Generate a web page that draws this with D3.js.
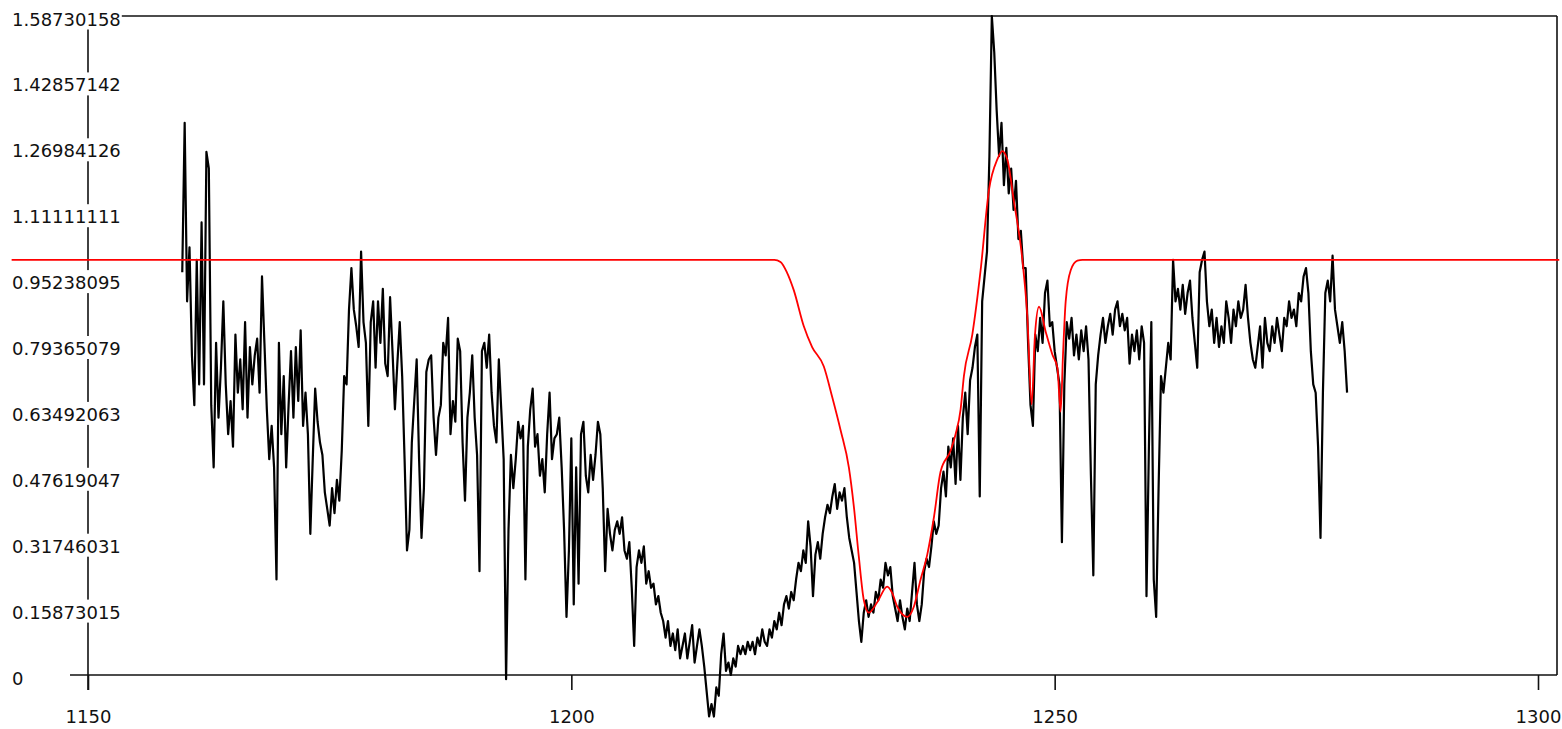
<!DOCTYPE html>
<html>
<head>
<meta charset="utf-8">
<script src="https://cdn.jsdelivr.net/npm/d3@7"></script>
<style>
body { margin: 0; background: #fff; overflow: hidden; }
svg { display: block; font-family: "DejaVu Sans", sans-serif; }
</style>
</head>
<body>
<div id="chart"></div>
<script>
/*
Spectrum (black) and fitted model (red)
 */

var specStart = 1159.75;
var specStep = 0.25;
var specFlux = [
    0.97, 1.33, 0.90, 1.03, 0.77, 0.65, 1.00, 0.70, 1.09, 0.70, 1.26, 1.22, 0.65, 0.50, 0.80, 0.62, 0.74, 0.90, 0.70, 0.58,
    0.66, 0.55, 0.82, 0.68, 0.76, 0.64, 0.85, 0.62, 0.79, 0.70, 0.77, 0.81, 0.68, 0.96, 0.80, 0.64, 0.52, 0.60, 0.50, 0.23,
    0.80, 0.58, 0.72, 0.50, 0.65, 0.78, 0.62, 0.79, 0.66, 0.83, 0.60, 0.68, 0.58, 0.34, 0.52, 0.69, 0.61, 0.56, 0.53, 0.44,
    0.40, 0.36, 0.45, 0.39, 0.47, 0.42, 0.54, 0.72, 0.70, 0.88, 0.98, 0.88, 0.84, 0.79, 1.02, 0.85, 0.80, 0.60, 0.85, 0.90,
    0.74, 0.90, 0.80, 0.93, 0.75, 0.72, 0.91, 0.78, 0.64, 0.75, 0.85, 0.72, 0.52, 0.30, 0.35, 0.56, 0.66, 0.76, 0.52, 0.33,
    0.45, 0.73, 0.76, 0.77, 0.62, 0.53, 0.62, 0.65, 0.80, 0.77, 0.86, 0.58, 0.66, 0.61, 0.81, 0.78, 0.56, 0.42, 0.62, 0.68,
    0.77, 0.62, 0.53, 0.25, 0.78, 0.80, 0.74, 0.82, 0.68, 0.60, 0.56, 0.76, 0.64, 0.52, -0.01, 0.35, 0.53, 0.45, 0.52, 0.61,
    0.57, 0.60, 0.23, 0.55, 0.64, 0.69, 0.55, 0.58, 0.48, 0.52, 0.44, 0.58, 0.68, 0.52, 0.57, 0.58, 0.62, 0.50, 0.35, 0.14,
    0.30, 0.57, 0.17, 0.50, 0.22, 0.58, 0.61, 0.48, 0.44, 0.53, 0.47, 0.53, 0.61, 0.58, 0.45, 0.25, 0.40, 0.34, 0.30, 0.35,
    0.37, 0.34, 0.38, 0.30, 0.28, 0.32, 0.21, 0.07, 0.26, 0.30, 0.27, 0.31, 0.22, 0.25, 0.21, 0.22, 0.17, 0.19, 0.15, 0.13,
    0.09, 0.13, 0.07, 0.10, 0.06, 0.11, 0.04, 0.07, 0.10, 0.04, 0.08, 0.12, 0.03, 0.07, 0.11, 0.07, 0.02, -0.04, -0.10, -0.07,
    -0.10, -0.03, -0.05, 0.05, 0.10, 0.01, 0.03, 0.00, 0.04, 0.02, 0.07, 0.05, 0.07, 0.05, 0.08, 0.06, 0.08, 0.05, 0.09, 0.07,
    0.11, 0.08, 0.07, 0.11, 0.09, 0.13, 0.11, 0.15, 0.12, 0.17, 0.19, 0.16, 0.20, 0.18, 0.23, 0.27, 0.25, 0.30, 0.27, 0.37,
    0.31, 0.19, 0.29, 0.32, 0.28, 0.34, 0.38, 0.41, 0.39, 0.43, 0.46, 0.40, 0.44, 0.42, 0.45, 0.38, 0.33, 0.30, 0.27, 0.20,
    0.13, 0.08, 0.15, 0.18, 0.14, 0.17, 0.15, 0.20, 0.18, 0.23, 0.21, 0.27, 0.24, 0.26, 0.19, 0.16, 0.13, 0.18, 0.14, 0.11,
    0.16, 0.13, 0.20, 0.27, 0.17, 0.13, 0.17, 0.25, 0.28, 0.26, 0.31, 0.37, 0.34, 0.36, 0.45, 0.49, 0.43, 0.55, 0.50, 0.57,
    0.46, 0.60, 0.47, 0.62, 0.68, 0.58, 0.71, 0.74, 0.79, 0.82, 0.43, 0.90, 0.96, 1.02, 1.25, 1.587, 1.50, 1.36, 1.25, 1.33,
    1.18, 1.27, 1.16, 1.22, 1.12, 1.19, 1.05, 1.07, 0.98, 0.98, 0.80, 0.65, 0.60, 0.82, 0.78, 0.86, 0.80, 0.92, 0.95, 0.84,
    0.85, 0.78, 0.74, 0.70, 0.32, 0.70, 0.85, 0.81, 0.86, 0.77, 0.82, 0.76, 0.83, 0.78, 0.84, 0.76, 0.48, 0.24, 0.70, 0.77,
    0.82, 0.86, 0.80, 0.84, 0.87, 0.82, 0.88, 0.90, 0.84, 0.87, 0.83, 0.86, 0.75, 0.82, 0.78, 0.83, 0.76, 0.84, 0.80, 0.19,
    0.55, 0.85, 0.23, 0.14, 0.45, 0.72, 0.68, 0.74, 0.80, 0.76, 1.00, 0.90, 0.93, 0.88, 0.94, 0.87, 0.92, 0.95, 0.86, 0.80,
    0.74, 0.97, 1.00, 1.02, 0.90, 0.84, 0.88, 0.80, 0.86, 0.79, 0.84, 0.80, 0.90, 0.86, 0.80, 0.88, 0.84, 0.90, 0.86, 0.88,
    0.94, 0.86, 0.80, 0.76, 0.74, 0.79, 0.84, 0.74, 0.86, 0.80, 0.78, 0.84, 0.80, 0.86, 0.82, 0.78, 0.86, 0.84, 0.90, 0.86,
    0.88, 0.84, 0.92, 0.90, 0.96, 0.98, 0.92, 0.78, 0.70, 0.68, 0.55, 0.33, 0.68, 0.92, 0.95, 0.90, 1.01, 0.88, 0.84, 0.80,
    0.85, 0.78, 0.68
];

var modelWave = [
    1142.1, 1221.0, 1221.64, 1222.3, 1223.01, 1224.05, 1224.91, 1226.12, 1226.98, 1227.85,
    1228.71, 1229.23, 1229.74, 1230.26, 1230.78, 1231.64, 1232.68, 1233.2, 1233.71, 1234.75,
    1235.44, 1236.13, 1236.82, 1237.51, 1238.2, 1239.23, 1239.75, 1240.27, 1240.61, 1241.48,
    1242.34, 1243.2, 1244.07, 1244.58, 1245.1, 1245.79, 1246.65, 1247.17, 1247.62, 1247.96,
    1248.38, 1249.07, 1249.76, 1250.28, 1250.62, 1250.86, 1251.14, 1251.66, 1252.35, 1252.87,
    1302.2
];
var modelFlux = [
    1.0, 1.0, 0.995, 0.97, 0.927, 0.84, 0.79, 0.743, 0.67, 0.59,
    0.50, 0.405, 0.285, 0.18, 0.15, 0.175, 0.213, 0.197, 0.165, 0.14,
    0.165, 0.23, 0.29, 0.38, 0.49, 0.54, 0.58, 0.64, 0.72, 0.82,
    0.975, 1.168, 1.242, 1.262, 1.242, 1.14, 1.002, 0.864, 0.652, 0.818,
    0.887, 0.827, 0.772, 0.74, 0.634, 0.77, 0.90, 0.975, 0.998, 1.0,
    1.0
];

var xTicks = [1150, 1200, 1250, 1300];
var yTickLabels = ["0", "0.15873015", "0.31746031", "0.47619047", "0.63492063", "0.79365079",
    "0.95238095", "1.11111111", "1.26984126", "1.42857142", "1.58730158"];

var width = 1562, height = 729;

var svg = d3.select("#chart")
    .append("svg")
    .attr("width", width)
    .attr("height", height);

var x = d3.scaleLinear().domain([1150, 1300]).range([88, 1538]);
var y = d3.scaleLinear().domain([0, +yTickLabels[yTickLabels.length - 1]]).range([675, 16]);

//frame and axis lines
var frame = [
    [88, 16, 1557, 16],
    [1557, 16, 1557, 675],
    [70, 675, 1557, 675],
    [88, 16, 88, 690]
];
svg.selectAll("line.frame")
    .data(frame)
    .enter()
    .append("line")
    .attr("class", "frame")
    .attr("x1", function(d) { return d[0]; })
    .attr("y1", function(d) { return d[1]; })
    .attr("x2", function(d) { return d[2]; })
    .attr("y2", function(d) { return d[3]; })
    .style("stroke", "#111")
    .style("stroke-width", 1.6);

//spectrum
var spec = specFlux.map(function(v, i) { return [specStart + i * specStep, v]; });

var line = d3.line()
    .x(function(d) { return x(d[0]); })
    .y(function(d) { return y(d[1]); });

svg.append("path")
    .datum(spec)
    .attr("d", line)
    .style("fill", "none")
    .style("stroke", "#000")
    .style("stroke-width", 2.2)
    .style("stroke-linejoin", "round");

//model
var model = modelWave.map(function(w, i) { return [w, modelFlux[i]]; });

svg.append("path")
    .datum(model)
    .attr("d", line.curve(d3.curveMonotoneX))
    .style("fill", "none")
    .style("stroke", "#ff0000")
    .style("stroke-width", 1.8);

//x axis
var xAxis = svg.append("g")
    .attr("transform", "translate(0,675)")
    .call(d3.axisBottom(x).tickValues(xTicks).tickSize(15).tickSizeOuter(0).tickFormat(d3.format("d")));

xAxis.select(".domain").remove();
xAxis.selectAll("line").style("stroke", "#111").style("stroke-width", 1.6);
xAxis.selectAll("text")
    .attr("y", 48)
    .attr("dy", null)
    .style("font-family", "DejaVu Sans")
    .style("font-size", "18px")
    .style("fill", "#111");

//y axis labels sit over the axis line on a white box
var yAxis = svg.append("g")
    .attr("transform", "translate(88,0)")
    .call(d3.axisLeft(y).tickValues(yTickLabels.map(Number)).tickSize(0)
        .tickFormat(function(d, i) { return yTickLabels[i]; }));

yAxis.select(".domain").remove();
yAxis.selectAll("text")
    .attr("x", -76)
    .attr("dy", null)
    .attr("y", 9)
    .style("text-anchor", "start")
    .style("font-family", "DejaVu Sans")
    .style("font-size", "18px")
    .style("fill", "#111");

yAxis.selectAll(".tick").each(function() {
    var g = d3.select(this);
    var b = g.select("text").node().getBBox();
    g.insert("rect", "text")
        .attr("x", b.x - 1)
        .attr("y", -10)
        .attr("width", b.width + 2)
        .attr("height", 23)
        .style("fill", "#fff");
});
</script>
</body>
</html>
